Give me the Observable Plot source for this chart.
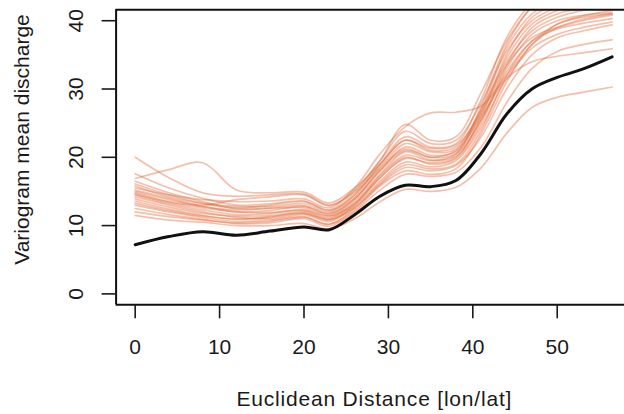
<!DOCTYPE html>
<html><head><meta charset="utf-8">
<script src="https://cdn.jsdelivr.net/npm/d3@7"></script>
<script src="https://cdn.jsdelivr.net/npm/@observablehq/plot@0.6"></script>
<style>body{margin:0;background:#fff}</style>
</head><body><div id="chart"></div>
<script>
// Distance values (lon/lat) at which the variograms were read
const distances = [0, 4, 8, 12, 16, 20, 23, 26, 29, 32, 35, 38, 41, 44, 47, 50, 53, 56.5];

// Black curve: mean variogram
const meanVariogram = [7.2, 8.4, 9.1, 8.6, 9.2, 9.8, 9.4, 11.6, 14.3, 15.9, 15.7, 16.6, 20.6, 26.3, 30.0, 31.7, 32.9, 34.7];

// Orange curves: individual variograms
const sim01 = [16.9, 18.2, 19.2, 15.2, 14.8, 14.9, 13.3, 15.5, 19.0, 22.5, 21.0, 21.5, 27.0, 34.0, 38.5, 40.5, 41.5, 42.5];
const sim02 = [20.0, 17.0, 14.8, 14.3, 14.5, 14.6, 13.0, 15.0, 19.5, 24.8, 22.5, 23.0, 29.5, 37.0, 42.0, 44.0, 45.0, 46.0];
const sim03 = [15.5, 14.5, 13.8, 13.5, 13.6, 13.9, 12.6, 15.5, 20.5, 24.5, 26.5, 26.6, 27.5, 32.0, 36.5, 39.5, 40.5, 41.0];
const sim04 = [14.8, 13.5, 12.8, 12.0, 12.2, 12.8, 11.8, 14.0, 18.0, 21.0, 20.0, 21.0, 26.0, 31.5, 34.0, 34.8, 35.3, 35.9];
const sim05 = [11.5, 10.8, 10.5, 10.0, 10.0, 10.3, 9.5, 11.0, 13.5, 15.3, 15.0, 15.6, 18.5, 23.5, 27.3, 28.8, 29.5, 30.3];
const sim06 = [13.0, 12.0, 11.2, 10.6, 10.8, 11.3, 10.2, 12.5, 16.0, 18.5, 18.0, 18.8, 23.0, 30.0, 35.0, 37.5, 38.5, 39.4];
const sim07 = [14.2, 13.0, 12.0, 11.2, 11.0, 11.6, 10.6, 13.0, 17.0, 20.0, 19.0, 19.8, 25.0, 33.0, 38.0, 40.0, 40.8, 41.2];
const sim08 = [15.2, 14.0, 12.8, 12.3, 12.5, 12.6, 11.5, 13.8, 18.0, 21.5, 20.3, 20.8, 26.5, 35.0, 40.5, 42.5, 43.5, 44.0];
const sim09 = [16.1, 14.5, 13.3, 12.8, 12.8, 13.2, 12.0, 14.5, 19.0, 23.0, 21.5, 22.0, 28.5, 37.5, 42.5, 44.0, 45.0, 45.5];
const sim10 = [13.6, 12.4, 11.5, 10.9, 11.2, 11.8, 10.9, 12.8, 16.5, 19.3, 18.6, 19.5, 24.5, 31.5, 36.0, 38.0, 39.0, 39.8];
const sim11 = [14.5, 13.2, 12.3, 11.6, 11.8, 12.2, 11.2, 13.5, 17.5, 20.8, 19.6, 20.2, 25.5, 33.5, 39.0, 41.0, 41.8, 42.0];
const sim12 = [17.6, 15.5, 14.0, 13.0, 13.2, 13.6, 12.3, 14.8, 18.5, 22.0, 20.8, 21.2, 27.0, 36.0, 41.0, 43.0, 44.0, 44.8];
const sim13 = [12.5, 11.6, 10.9, 10.3, 10.4, 11.0, 9.9, 12.0, 15.2, 17.5, 17.2, 17.8, 21.5, 28.0, 33.0, 35.5, 36.5, 37.2];
const sim14 = [15.0, 13.8, 13.0, 13.8, 14.2, 14.5, 12.9, 15.2, 19.5, 23.8, 22.0, 22.5, 28.0, 35.5, 40.0, 42.0, 43.5, 44.5];
const sim15 = [13.9, 12.7, 11.8, 11.4, 11.5, 12.0, 11.0, 13.2, 17.0, 19.8, 19.2, 20.0, 26.0, 34.5, 39.5, 41.5, 42.5, 43.0];
const sim16 = [16.5, 14.8, 13.5, 12.5, 12.6, 12.9, 11.7, 14.0, 18.3, 21.2, 20.0, 20.5, 25.5, 32.5, 37.0, 38.8, 39.6, 40.3];
const sim17 = [12.0, 11.3, 10.8, 10.4, 10.6, 11.2, 10.2, 12.2, 15.8, 18.0, 17.5, 18.3, 23.5, 31.0, 36.5, 39.0, 40.2, 41.0];
const sim18 = [14.6, 13.4, 12.6, 12.0, 11.9, 12.3, 11.4, 13.2, 17.3, 20.3, 19.5, 20.5, 27.5, 36.5, 42.0, 44.5, 46.0, 47.0];
const sim19 = [15.8, 14.2, 13.2, 12.6, 13.0, 13.5, 12.2, 14.4, 18.8, 22.5, 21.3, 21.8, 26.5, 33.5, 37.5, 39.0, 40.0, 40.8];
const sim20 = [13.3, 12.2, 11.4, 11.0, 11.3, 11.8, 10.8, 12.6, 16.2, 18.9, 18.3, 19.0, 24.0, 32.0, 37.0, 39.5, 40.7, 41.5];

const xTicks = [0, 10, 20, 30, 40, 50];
const yTicks = [0, 10, 20, 30, 40];
const xLabel = "Euclidean Distance [lon/lat]";
const yLabel = "Variogram mean discharge";

const sims = [sim01, sim02, sim03, sim04, sim05, sim06, sim07, sim08, sim09, sim10,
              sim11, sim12, sim13, sim14, sim15, sim16, sim17, sim18, sim19, sim20];
const simRows = sims.flatMap((vals, k) => vals.map((v, i) => ({sim: k, d: distances[i], v})));
const meanRows = distances.map((d, i) => ({d, v: meanVariogram[i]}));

const xDomain = [-2.26, 57.97];
const yDomain = [-1.6, 41.6];

const chart = Plot.plot({
  width: 624,
  height: 414,
  marginLeft: 115.6,
  marginRight: 0,
  marginTop: 9.3,
  marginBottom: 109.7,
  x: {domain: xDomain},
  y: {domain: yDomain},
  style: {fontFamily: "'Liberation Sans', Arial, sans-serif", fontSize: "21px", color: "#1a1a1a", background: "#fff"},
  marks: [
    Plot.line(simRows, {x: "d", y: "v", z: "sim", stroke: "#e0693a", strokeOpacity: 0.42, strokeWidth: 1.7, curve: "catmull-rom", clip: true}),
    Plot.line(meanRows, {x: "d", y: "v", stroke: "#111", strokeWidth: 3, curve: "catmull-rom", clip: true}),
    Plot.ruleY([yDomain[0], yDomain[1]], {stroke: "#111", strokeWidth: 2}),
    Plot.ruleX([xDomain[0]], {stroke: "#111", strokeWidth: 2}),
    Plot.axisX({ticks: xTicks, tickSize: 14, tickPadding: 20, strokeWidth: 1.6, label: null, fontSize: 21}),
    Plot.axisY({ticks: yTicks, tickSize: 14, tickPadding: 19.5, tickRotate: -90, strokeWidth: 1.6, label: null, fontSize: 21}),
    Plot.text([xLabel], {text: d => d, frameAnchor: "bottom", textAnchor: "middle", lineAnchor: "bottom", dx: 4, dy: 101, fontSize: 21}),
    Plot.text([yLabel], {text: d => d, frameAnchor: "left", textAnchor: "middle", lineAnchor: "middle", rotate: -90, dx: -93.7, dy: -17.8, fontSize: 21})
  ]
});
d3.select(chart).selectAll("text").filter(function() { return this.textContent === xLabel; }).style("letter-spacing", "0.8px");
document.getElementById("chart").appendChild(chart);
</script>
</body></html>
